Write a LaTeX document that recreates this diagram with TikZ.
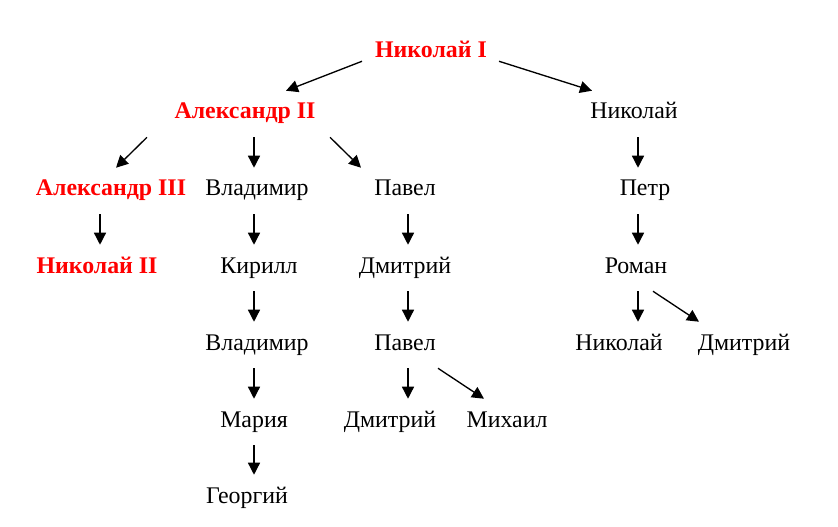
\documentclass[tikz,border=0pt]{standalone}
\usepackage{fontspec}
\setmainfont{Liberation Serif}
\newfontfamily\tnr{Liberation Serif}
\usetikzlibrary{arrows.meta}
\begin{document}
\begin{tikzpicture}[x=0.75pt,y=-0.75pt,
  person/.style={font=\tnr\fontsize{17.9pt}{20pt}\selectfont, anchor=base, inner xsep=0pt,
    inner ysep=9.75pt, text height=11.25pt, text depth=3.75pt},
  royal/.style={person, text=red, font=\tnr\fontsize{17.9pt}{20pt}\selectfont\bfseries},
  toprow/.style={royal, inner ysep=0pt, text depth=2.25pt},
  arr/.style={line width=1pt, -{Triangle[length=9pt,width=9pt]}}]
\useasboundingbox (0,0) rectangle (838,527);
% nodes
\node[toprow] (n1) at (431,58) {Николай I};
\node[royal] (a2) at (245,119) {Александр II};
\node[person] (nk) at (634,119) {Николай};
\node[royal] (a3) at (111,196) {Александр III};
\node[person] (v1) at (257,196) {Владимир};
\node[person] (p1) at (405,196) {Павел};
\node[person] (pt) at (645,196) {Петр};
\node[royal] (n2) at (97,273) {Николай II};
\node[person] (ki) at (259,273) {Кирилл};
\node[person] (d1) at (405,273) {Дмитрий};
\node[person] (ro) at (636,273) {Роман};
\node[person] (v2) at (257,350) {Владимир};
\node[person] (p2) at (405,350) {Павел};
\node[person] (n3) at (619,350) {Николай};
\node[person] (d2) at (744,350) {Дмитрий};
\node[person] (ma) at (254,427) {Мария};
\node[person] (d3) at (390,427) {Дмитрий};
\node[person] (mi) at (507,427) {Михаил};
\node[person] (ge) at (247,503) {Георгий};
% arrow columns
\coordinate (c100) at (100,0);
\coordinate (c116) at (116,0);
\coordinate (c147) at (147,0);
\coordinate (c254) at (254,0);
\coordinate (c286) at (286,0);
\coordinate (c330) at (330,0);
\coordinate (c361) at (361,0);
\coordinate (c362) at (362,0);
\coordinate (c408) at (408,0);
\coordinate (c438) at (438,0);
\coordinate (c484) at (484,0);
\coordinate (c499) at (499,0);
\coordinate (c592) at (592,0);
\coordinate (c638) at (638,0);
\coordinate (c653) at (653,0);
\coordinate (c699) at (699,0);
% connectors
\draw[arr] (n1.south -| c362) -- (a2.north -| c286);
\draw[arr] (n1.south -| c499) -- (nk.north -| c592);
\draw[arr] (a2.south -| c147) -- (a3.north -| c116);
\draw[arr] (a2.south -| c254) -- (v1.north -| c254);
\draw[arr] (a2.south -| c330) -- (p1.north -| c361);
\draw[arr] (a3.south -| c100) -- (n2.north -| c100);
\draw[arr] (v1.south -| c254) -- (ki.north -| c254);
\draw[arr] (p1.south -| c408) -- (d1.north -| c408);
\draw[arr] (nk.south -| c638) -- (pt.north -| c638);
\draw[arr] (pt.south -| c638) -- (ro.north -| c638);
\draw[arr] (ki.south -| c254) -- (v2.north -| c254);
\draw[arr] (d1.south -| c408) -- (p2.north -| c408);
\draw[arr] (ro.south -| c638) -- (n3.north -| c638);
\draw[arr] (ro.south -| c653) -- (d2.north -| c699);
\draw[arr] (v2.south -| c254) -- (ma.north -| c254);
\draw[arr] (p2.south -| c408) -- (d3.north -| c408);
\draw[arr] (p2.south -| c438) -- (mi.north -| c484);
\draw[arr] (ma.south -| c254) -- (ge.north -| c254);
\end{tikzpicture}
\end{document}
